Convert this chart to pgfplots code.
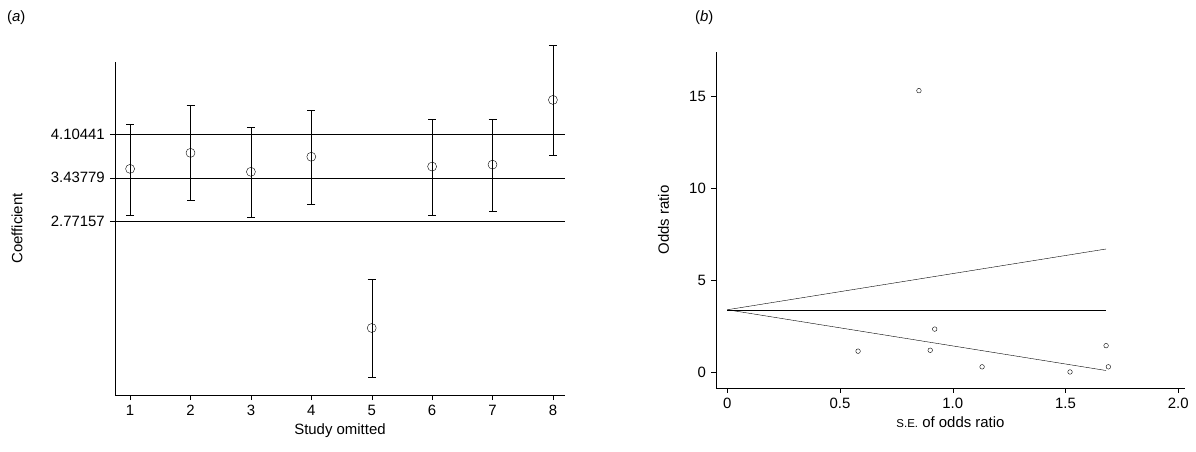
\documentclass[border=0pt]{standalone}
\usepackage{pgfplots}
\pgfplotsset{compat=1.18}
\usepackage{fontspec}
\setmainfont{Liberation Sans}
\begin{document}
\fontsize{15}{18}\selectfont
\begin{tikzpicture}
\path[use as bounding box] (0bp,0bp) rectangle (1196bp,452bp);
\node[anchor=west] at (2bp,434bp) {(\textit{a})};
\node[anchor=west] at (690bp,434bp) {(\textit{b})};
\begin{axis}[at={(115bp,57bp)},anchor=south west,scale only axis,width=450bp,height=333bp,
 axis lines=left, axis line style={-}, xmin=0.75,xmax=8.2,ymin=0.115,ymax=5.21,
 clip=false, tick align=outside, xtick={1,...,8},
 ytick={2.77157,3.43779,4.10441},yticklabels={2.77157,3.43779,4.10441},
 major tick length=5bp, tick style={black},
 xlabel={Study omitted}, ylabel={Coefficient},
 xlabel style={yshift=2bp}, ylabel style={yshift=18bp},
 /pgf/number format/assume math mode=true]
\addplot[black,no markers] coordinates {(0.75,4.10441)(8.2,4.10441)};
\addplot[black,no markers] coordinates {(0.75,3.43779)(8.2,3.43779)};
\addplot[black,no markers] coordinates {(0.75,2.77157)(8.2,2.77157)};
\addplot[black,only marks,mark=o,mark size=4.5bp,
 error bars/.cd,y dir=both,y explicit,error mark options={rotate=90,mark size=4bp}]
 table[x=x,y=y,y error plus=p,y error minus=m]{
 x y p m
 1 3.575 0.685 0.705
 2 3.82 0.73 0.73
 3 3.53 0.69 0.70
 4 3.76 0.72 0.72
 5 1.14 0.74 0.75
 6 3.61 0.73 0.74
 7 3.64 0.69 0.72
 8 4.63 0.83 0.84
 };
\end{axis}
\begin{axis}[at={(716bp,64bp)},anchor=south west,scale only axis,width=469bp,height=336bp,
 axis lines=left, axis line style={-}, xmin=-0.05,xmax=2.03,ymin=-0.85,ymax=17.4,
 clip=false, tick align=outside, xtick={0,0.5,1,1.5,2},
 xticklabels={0,0.5,1.0,1.5,2.0}, ytick={0,5,10,15},
 major tick length=5bp, tick style={black},
 xlabel={{\fontsize{11.5}{12}\selectfont S.E.} of odds ratio}, ylabel={Odds ratio},
 xlabel style={yshift=2bp}, ylabel style={yshift=10bp},
 /pgf/number format/assume math mode=true]
\addplot[black,no markers] coordinates {(0,3.4)(1.68,6.7)};
\addplot[black,no markers] coordinates {(0,3.4)(1.68,3.4)};
\addplot[black,no markers] coordinates {(0,3.4)(1.68,0.1)};
\addplot[black,only marks,mark=o,mark size=2.3bp] coordinates {
(0.85,15.3)(0.58,1.15)(0.90,1.2)(0.92,2.35)(1.13,0.3)(1.52,0.02)(1.68,1.45)(1.69,0.3)};
\end{axis}
\end{tikzpicture}
\end{document}
